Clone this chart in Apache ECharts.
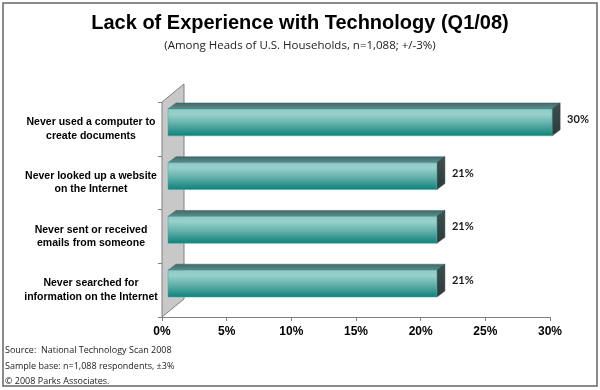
<!DOCTYPE html>
<html><head><meta charset="utf-8">
<script src="https://cdn.jsdelivr.net/npm/echarts@6/dist/echarts.min.js"></script>
<style>html,body{margin:0;padding:0;background:#fff}#c{width:600px;height:390px}</style>
</head><body><div id="c"></div>
<script>
const categories = [
  "Never used a computer to\ncreate documents",
  "Never looked up a website\non the Internet",
  "Never sent or received\nemails from someone",
  "Never searched for\ninformation on the Internet"
];
const values = [30, 21, 21, 21];
const titleText = "Lack of Experience with Technology (Q1/08)";
const subtitleText = "(Among Heads of U.S. Households, n=1,088; +/-3%)";
const footerLines = [
  "Source:  National Technology Scan 2008",
  "Sample base: n=1,088 respondents, \u00b13%",
  "\u00a9 2008 Parks Associates."
];

const chart = echarts.init(document.getElementById('c'), null, {renderer: 'canvas'});

const DX = 8, DY = -6;       // bar depth
const WX = 22, WY = -18;     // wall depth

function renderWall(params, api) {
  const cs = params.coordSys;
  const x = cs.x, y = cs.y, h = cs.height;
  return {
    type: 'group',
    children: [{
      type: 'polygon',
      shape: {points: [[x, y + h], [x, y], [x + WX, y + WY], [x + WX, y + h + WY]]},
      style: {fill: '#c8c8c8', stroke: '#808080', lineWidth: 1}
    }]
  };
}

function renderBar(params, api) {
  const v = api.value(0), c = api.value(1);
  const p0 = api.coord([0, c]), p1 = api.coord([v, c]);
  const band = api.size([0, 1])[1];
  const h = band * 0.5;
  const x0 = p0[0] + 6;
  const x1 = x0 + (p1[0] - p0[0]) * 0.99;
  const yc = p0[1] - 6.5, yt = yc - h / 2, yb = yc + h / 2;
  return {
    type: 'group',
    children: [
      {type: 'polygon', shape: {points: [[x0, yt], [x0 + DX, yt + DY], [x1 + DX, yt + DY], [x1, yt]]},
        style: {fill: {type: 'linear', x: 0, y: 0, x2: 0, y2: 1, colorStops: [
          {offset: 0, color: '#3e6868'}, {offset: 1, color: '#5e8f8d'}]}, stroke: '#3d6363', lineWidth: 0.5}},
      {type: 'polygon', shape: {points: [[x1, yt], [x1 + DX, yt + DY], [x1 + DX, yb + DY], [x1, yb]]},
        style: {fill: {type: 'linear', x: 0, y: 0, x2: 0, y2: 1, colorStops: [
          {offset: 0, color: '#3c4f4f'}, {offset: 1, color: '#2c3b3b'}]}, stroke: '#2e3d3d', lineWidth: 0.5}},
      {type: 'rect', shape: {x: x0, y: yt, width: x1 - x0, height: h},
        style: {fill: {type: 'linear', x: 0, y: 0, x2: 0, y2: 1, colorStops: [
          {offset: 0, color: '#8ccac6'}, {offset: 0.2, color: '#98d0cc'},
          {offset: 0.55, color: '#62b0aa'}, {offset: 0.9, color: '#1e8b85'}, {offset: 1, color: '#147e78'}]},
          stroke: '#4aa7a1', lineWidth: 0.5}},
      {type: 'text', style: {text: v + '%', x: x1 + DX + 7, y: yc - 3, verticalAlign: 'middle', align: 'left',
        font: 'bold 11px Lato', fill: '#1a1a1a'}}
    ]
  };
}

chart.setOption({
  animation: false,
  backgroundColor: '#fff',
  title: [{
    text: titleText, left: 'center', top: 8,
    textStyle: {fontFamily: 'Liberation Sans', fontWeight: 'bold', fontSize: 20, color: '#000'}
  }, {
    text: subtitleText, left: 'center', top: 35,
    textStyle: {fontFamily: 'Open Sans', fontWeight: 'normal', fontSize: 11.5, color: '#222'}
  }],
  graphic: [
    {type: 'rect', shape: {x: 3, y: 3, width: 594, height: 383}, style: {fill: 'none', stroke: '#666', lineWidth: 1.5}, silent: true},
    {type: 'text', left: 5, top: 343, style: {text: footerLines.join('\n'), font: '9px "Open Sans"', lineHeight: 15.5, fill: '#222'}}
  ],
  grid: {left: 162, right: 50, top: 102, bottom: 73},
  xAxis: {
    type: 'value', min: 0, max: 30, interval: 5,
    axisLine: {show: true, lineStyle: {color: '#808080'}},
    axisTick: {show: true, length: 4, lineStyle: {color: '#808080'}},
    splitLine: {show: false},
    axisLabel: {formatter: '{value}%', fontFamily: 'Liberation Sans', fontWeight: 'bold', fontSize: 12, color: '#000', margin: 9}
  },
  yAxis: {
    type: 'category', data: categories, inverse: true,
    axisLine: {show: true, lineStyle: {color: '#808080'}},
    axisTick: {show: true, length: 4, lineStyle: {color: '#808080'}},
    axisLabel: {align: 'center', margin: 71, fontFamily: 'Liberation Sans', fontWeight: 'bold', fontSize: 10.5,
      lineHeight: 13.5, color: '#000'}
  },
  series: [
    {type: 'custom', renderItem: renderWall, data: [[0, 0]], z: 1, silent: true},
    {type: 'custom', renderItem: renderBar, data: values.map((v, i) => [v, i]), z: 3,
      encode: {x: 0, y: 1}}
  ]
});
</script></body></html>
